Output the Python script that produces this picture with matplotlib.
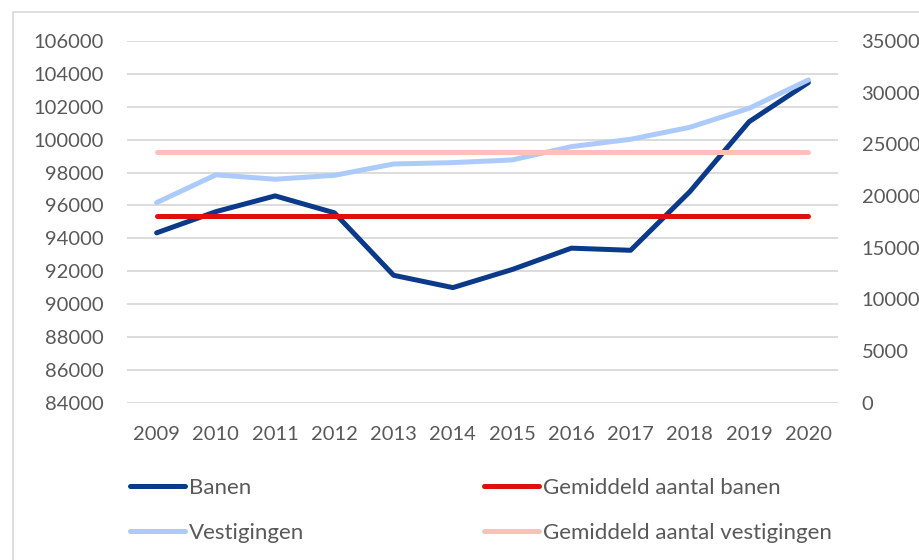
import numpy as np
import matplotlib
matplotlib.use('Agg')
import matplotlib.pyplot as plt
from matplotlib.patches import Rectangle

# ---------------------------------------------------------
# Data
# ---------------------------------------------------------
years = ['2009', '2010', '2011', '2012', '2013', '2014',
         '2015', '2016', '2017', '2018', '2019', '2020']

# left axis
banen = [94330, 95620, 96580, 95550, 91750, 91000,
         92100, 93400, 93270, 96840, 101090, 103470]
gem_banen = 95380

# right axis
vestigingen = [19360, 22050, 21625, 22000, 23100, 23230,
               23490, 24780, 25490, 26650, 28490, 31230]
gem_vestigingen = 24240

left_ticks = list(range(84000, 106001, 2000))
right_ticks = list(range(0, 35001, 5000))

# ---------------------------------------------------------
# Style
# ---------------------------------------------------------
plt.rcParams['font.family'] = ['Lato', 'DejaVu Sans']
FS = 14.5
FS_LEG = 16
TXT = '#595959'
GRID = '#D9D9D9'
C_BANEN = '#0B3A8A'
C_GEM_BANEN = '#E00E0E'
C_VEST = '#ADCBFA'
C_GEM_VEST = '#FFC0BC'
LW = 3.6

fig = plt.figure(figsize=(9.19, 5.60), dpi=100)

# chart border (Excel style, runs off the right/bottom edge)
fig.patches.append(Rectangle((13 / 919, -0.1), 1.2, 1 - 12 / 560 + 0.1,
                             transform=fig.transFigure, fill=False,
                             edgecolor=GRID, linewidth=1.2))

ax = fig.add_axes([127 / 919, 1 - 402.7 / 560,
                   (838 - 127) / 919, (402.7 - 41) / 560])
ax2 = ax.twinx()

x = np.arange(len(years))

l1, = ax.plot(x, banen, color=C_BANEN, lw=LW, solid_capstyle='round',
              solid_joinstyle='round', label='Banen', zorder=3)
l2, = ax.plot(x, [gem_banen] * len(years), color=C_GEM_BANEN, lw=LW,
              solid_capstyle='round', label='Gemiddeld aantal banen', zorder=4)
l3, = ax2.plot(x, vestigingen, color=C_VEST, lw=LW, solid_capstyle='round',
               solid_joinstyle='round', label='Vestigingen', zorder=3)
l4, = ax2.plot(x, [gem_vestigingen] * len(years), color=C_GEM_VEST, lw=LW,
               solid_capstyle='round', label='Gemiddeld aantal vestigingen',
               zorder=4)

ax.set_xlim(-0.5, len(years) - 0.5)
ax.set_ylim(84000, 106000)
ax2.set_ylim(0, 35000)
ax.set_yticks(left_ticks)
ax2.set_yticks(right_ticks)
ax.set_xticks(x)
ax.set_xticklabels(years)

ax.grid(axis='y', color=GRID, linewidth=1.3)
ax.set_axisbelow(True)
ax.set_zorder(2)
ax2.set_zorder(3)
ax.patch.set_visible(False)
ax2.patch.set_visible(False)

for a in (ax, ax2):
    for s in a.spines.values():
        s.set_visible(False)
    a.tick_params(length=0, labelsize=FS, labelcolor=TXT)
ax.tick_params(axis='y', pad=17)
ax2.tick_params(axis='y', pad=17)
ax.tick_params(axis='x', pad=17)

fig.legend(handles=[l1, l3, l2, l4], ncol=2, frameon=False,
           fontsize=FS_LEG, labelcolor=TXT,
           loc='upper left', bbox_to_anchor=(130 / 919, 1 - 478 / 560),
           handlelength=2.48, handletextpad=0.18, columnspacing=8.1,
           labelspacing=1.13, borderaxespad=0, borderpad=0)

fig.savefig('out.png', dpi=100)
